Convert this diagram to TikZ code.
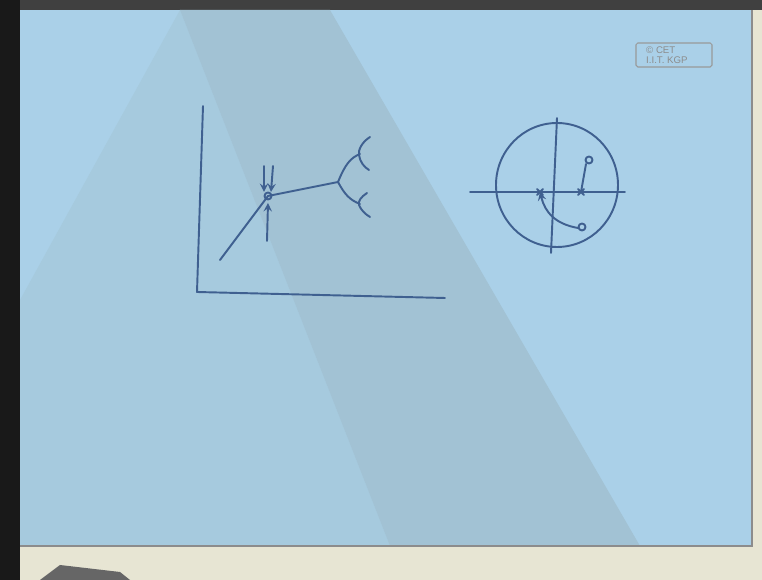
\documentclass[tikz,border=0pt]{standalone}
\usepackage{fontspec}
\setsansfont{Liberation Sans}
\definecolor{paper}{HTML}{AAD0E8}
\definecolor{paperdark}{HTML}{A2C2D4}
\definecolor{paperleft}{HTML}{A6CADE}
\definecolor{ink}{HTML}{3F6090}
\definecolor{desk}{HTML}{E7E5D3}
\begin{document}
\begin{tikzpicture}[x=0.02cm,y=-0.02cm,>=stealth,
  pen/.style={ink,line width=1.1pt,line cap=round,line join=round}]
% desk, frame and sheet
\fill[desk] (0,0) rectangle (762,580);
\fill[black!90] (0,0) rectangle (20,580);
\fill[black!75] (20,0) rectangle (762,10);
\fill[paper] (20,10) rectangle (752,546);
\fill[paperleft] (20,300) -- (180,10) -- (390,546) -- (20,546) -- cycle;
\fill[paperdark] (180,10) -- (330,10) -- (640,546) -- (390,546) -- cycle;
\draw[black!45,line width=1pt] (20,546) -- (752,546) -- (752,10);
\fill[black!60] (40,580) -- (60,565) -- (120,572) -- (130,580) -- cycle;
% stamp
\draw[black!40,line width=0.6pt,rounded corners=1pt] (636,43) rectangle (712,67);
\node[black!45,font=\sffamily\fontsize{5.5}{5.5}\selectfont,align=left,anchor=west] (stamp) at (640,55) {\copyright\ CET\\I.I.T. KGP};
% left sketch: axes
\draw[pen] (203,106) -- (197,292) -- (445,298);
\coordinate (jn) at (268,196);
\coordinate (brk) at (338,182);
\draw[pen] (220,260) -- (jn) -- (brk);
\draw[pen] (brk) .. controls (345,165) and (350,158) .. (360,154);
\draw[pen] (brk) .. controls (345,195) and (350,200) .. (360,204);
\draw[pen] (370,137) .. controls (362,142) and (358,150) .. (359,155) .. controls (360,162) and (364,167) .. (369,170);
\draw[pen] (367,193) .. controls (361,197) and (358,201) .. (359,205) .. controls (361,210) and (365,214) .. (370,217);
\draw[pen] (268,196) circle (3.5);
\draw[pen,->] (264,166) -- (264,192);
\draw[pen,->] (273,166) -- (271,192);
\draw[pen,->] (267,241) -- (268,203);
% right sketch: unit circle and axes
\draw[pen] (557,185) ellipse (61 and 62);
\draw[pen] (470,192) -- (625,192);
\draw[pen] (557,118) -- (551,253);
\coordinate (p1) at (540,192);
\coordinate (p2) at (581,192);
\coordinate (z1) at (589,160);
\coordinate (z2) at (582,227);
\foreach \p in {p1,p2}
  \draw[pen] ([shift={(-3,-3)}]\p) -- ([shift={(3,3)}]\p) ([shift={(-3,3)}]\p) -- ([shift={(3,-3)}]\p);
\foreach \z in {z1,z2}
  \draw[pen] (\z) circle (3.5);
\draw[pen] (p2) -- (586,164);
\draw[pen,->] (578,228) .. controls (555,224) and (545,212) .. (p1);
\end{tikzpicture}
\end{document}
